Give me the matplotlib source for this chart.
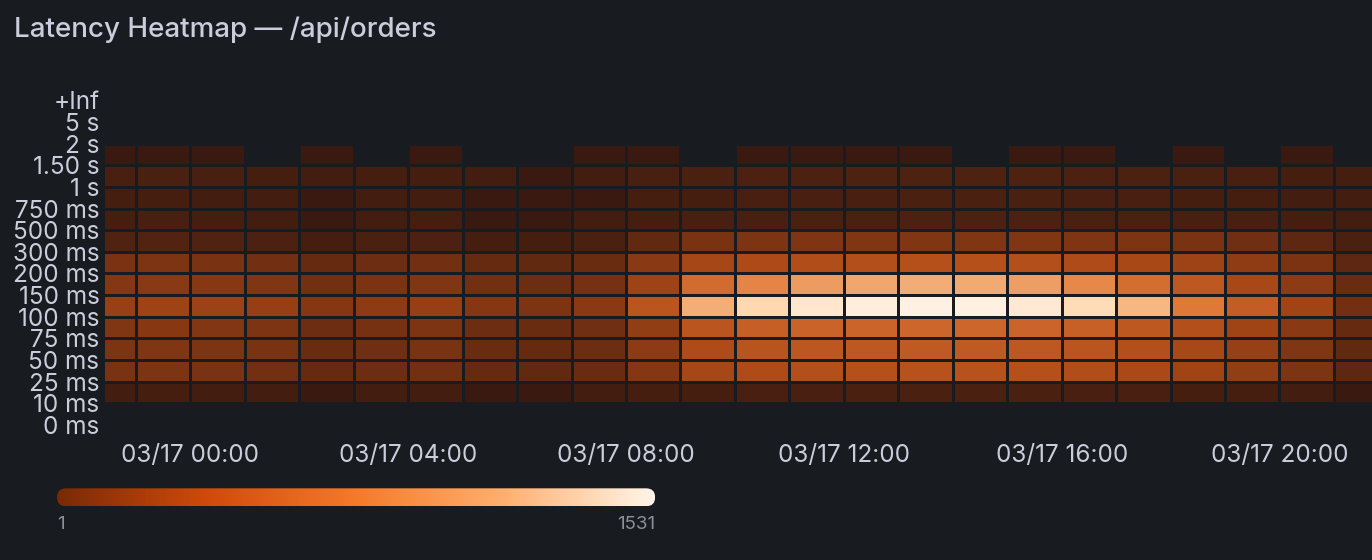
import numpy as np
import matplotlib.pyplot as plt
from matplotlib.colors import LinearSegmentedColormap, PowerNorm
from matplotlib.patches import FancyBboxPatch

plt.rcParams["font.family"] = ["Inter", "DejaVu Sans"]

# bucket boundaries, bottom to top
bucket_labels = ["0 ms", "10 ms", "25 ms", "50 ms", "75 ms", "100 ms", "150 ms", "200 ms",
                 "300 ms", "500 ms", "750 ms", "1 s", "1.50 s", "2 s", "5 s", "+Inf"]

# hour starts: 03/16 22:00 ... 03/17 21:00
hours = list(range(22, 46))

# counts per bucket (rows bottom to top), one value per hour
b_0_10 = [0] * 24
b_10_25 = [2, 3, 2, 2, 1, 2, 2, 1, 1, 2, 3, 3, 4, 4, 5, 5, 5, 5, 4, 4, 3, 3, 2, 1]
b_25_50 = [60, 70, 60, 50, 30, 40, 50, 30, 25, 35, 90, 200, 240, 260, 270, 280, 280, 270, 250, 220, 180, 130, 70, 20]
b_50_75 = [70, 80, 70, 60, 35, 45, 60, 35, 30, 40, 110, 240, 290, 310, 320, 330, 330, 320, 300, 260, 210, 150, 80, 25]
b_75_100 = [80, 95, 85, 70, 40, 55, 70, 40, 35, 45, 130, 300, 360, 390, 400, 410, 410, 400, 370, 320, 260, 180, 100, 30]
b_100_150 = [150, 170, 160, 140, 90, 110, 140, 90, 70, 100, 300, 800, 1100, 1300, 1420, 1480, 1450, 1350, 1150, 850, 550, 350, 180, 50]
b_150_200 = [90, 100, 95, 80, 50, 65, 80, 50, 40, 55, 170, 450, 600, 700, 760, 790, 780, 720, 620, 460, 320, 210, 110, 35]
b_200_300 = [60, 70, 60, 50, 30, 40, 50, 30, 25, 35, 100, 200, 230, 250, 260, 270, 270, 260, 240, 210, 170, 120, 65, 20]
b_300_500 = [8, 10, 8, 6, 3, 5, 6, 3, 3, 5, 25, 60, 70, 75, 80, 80, 80, 78, 75, 70, 60, 45, 20, 5]
b_500_750 = [3, 4, 3, 2, 1, 2, 3, 1, 1, 2, 3, 4, 4, 5, 5, 6, 6, 6, 5, 5, 4, 4, 3, 2]
b_750_1s = [3, 3, 2, 2, 1, 2, 2, 1, 1, 1, 3, 3, 4, 4, 4, 5, 5, 5, 4, 4, 3, 3, 2, 2]
b_1_15s = [4, 5, 4, 3, 2, 3, 3, 2, 1, 2, 4, 5, 6, 6, 7, 7, 7, 7, 6, 6, 5, 4, 3, 3]
b_15_2s = [1, 1, 1, 0, 1, 0, 1, 0, 0, 1, 1, 0, 1, 1, 1, 1, 0, 1, 1, 0, 1, 0, 1, 0]
b_2_5s = [0] * 24
b_5_inf = [0] * 24

counts = np.array([b_0_10, b_10_25, b_25_50, b_50_75, b_75_100, b_100_150, b_150_200,
                   b_200_300, b_300_500, b_500_750, b_750_1s, b_1_15s, b_15_2s,
                   b_2_5s, b_5_inf], dtype=float)
vmin, vmax = 1, 1531

bg = "#181b1f"
txt = "#ccccdc"
bar_cmap = LinearSegmentedColormap.from_list(
    "grafana_oranges", ["#7a2a06", "#d04a0c", "#f57a2a", "#ffb070", "#fff6ea"])
# cells in the panel are thin sparse stripes, so their blended look is darker
cell_cmap = LinearSegmentedColormap.from_list(
    "cells", ["#3a1a10", "#7a3212", "#b04c18", "#e07838", "#ffd0a0", "#fff4e8"])

fig = plt.figure(figsize=(13.72, 5.6), dpi=100, facecolor=bg)
ax = fig.add_axes([0.0765, 0.241, 0.9235, 0.58], facecolor=bg)

x_edges = np.array(hours + [46])
y_edges = np.arange(len(bucket_labels))
masked = np.ma.masked_less(counts, 1)
ax.pcolormesh(x_edges, y_edges, masked, cmap=cell_cmap,
              norm=PowerNorm(0.5, vmin=vmin, vmax=vmax),
              edgecolor=bg, linewidth=0.8)

ax.set_xlim(22.43, 45.7)
ax.set_ylim(0, 15)
ax.set_yticks(y_edges)
ax.set_yticklabels(bucket_labels)
xt = [24, 28, 32, 36, 40, 44]
ax.set_xticks(xt)
ax.set_xticklabels(["03/17 %02d:00" % (h - 24) for h in xt])
ax.tick_params(colors=txt, labelsize=17.5, length=0)
ax.tick_params(axis="x", pad=14)
ax.tick_params(axis="y", pad=4)
ax.grid(True, color="#2c2f34", linewidth=0.8)
ax.set_axisbelow(True)
for s in ax.spines.values():
    s.set_visible(False)

fig.text(0.0102, 0.946, "Latency Heatmap — /api/orders", color=txt, fontsize=20,
         fontweight="medium", va="center")

# colour scale bar with rounded ends
cax = fig.add_axes([0.0415, 0.096, 0.436, 0.032])
w, h = 598, 18
im = cax.imshow(np.linspace(0, 1, 256)[None, :], aspect="auto", cmap=bar_cmap,
                extent=[0, w, 0, h])
clip = FancyBboxPatch((0, 0), w, h, boxstyle="round,pad=0,rounding_size=9",
                      transform=cax.transData, facecolor="none", edgecolor="none")
cax.add_patch(clip)
im.set_clip_path(clip)
cax.set_xlim(0, w)
cax.set_ylim(0, h)
cax.axis("off")
fig.text(0.0415, 0.063, str(vmin), color="#8e8e9a", fontsize=13.5, va="center")
fig.text(0.4775, 0.063, str(vmax), color="#8e8e9a", fontsize=13.5, va="center", ha="right")

fig.savefig("out.png", dpi=100, facecolor=bg)
